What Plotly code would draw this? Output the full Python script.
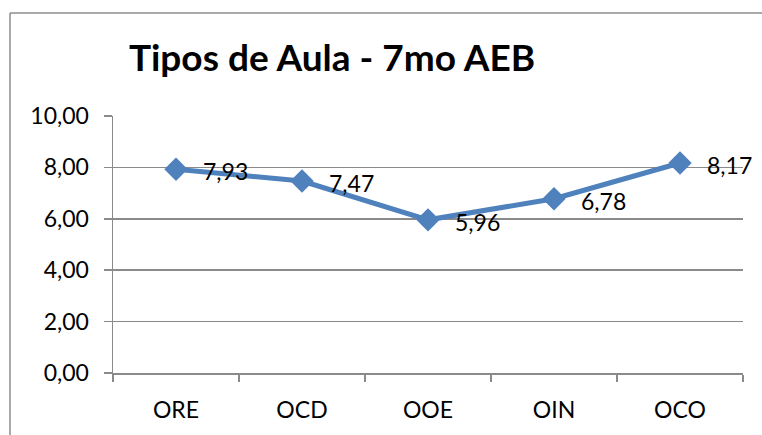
import plotly.graph_objects as go

categories = ["ORE", "OCD", "OOE", "OIN", "OCO"]
values = [7.93, 7.47, 5.96, 6.78, 8.17]
y_ticks = [0, 2, 4, 6, 8, 10]
title_text = "Tipos de Aula - 7mo AEB"

W, H = 762, 435
ml, mt = 113, 116
pw, ph = 630, 257
mr, mb = W - ml - pw, H - mt - ph

FONT = "Lato"
grid_c = "#8a8a8a"
line_c = "#4F81BD"

fig = go.Figure()
fig.add_trace(go.Scatter(
    x=categories, y=values, mode="lines+markers",
    line=dict(color=line_c, width=5),
    marker=dict(symbol="diamond", size=18, color=line_c),
    hoverinfo="skip", showlegend=False,
))

for c, v in zip(categories, values):
    fig.add_annotation(
        x=c, y=v, xref="x", yref="y",
        text=f"{v:.2f}".replace(".", ","),
        showarrow=False, xanchor="left", yanchor="middle",
        xshift=25, yshift=-2,
        font=dict(family=FONT, size=23, color="#000"),
    )

def px_to_paper_x(px):
    return (px - ml) / pw

def px_to_paper_y(py):
    return (H - mb - py) / ph

# chart frame: only left and top edges are visible in the reference
frame = dict(color="#8c8c8c", width=1.5)
fig.add_shape(type="line", xref="paper", yref="paper",
              x0=px_to_paper_x(10), x1=px_to_paper_x(10),
              y0=px_to_paper_y(13), y1=px_to_paper_y(H + 5),
              line=frame, layer="below")
fig.add_shape(type="line", xref="paper", yref="paper",
              x0=px_to_paper_x(10), x1=px_to_paper_x(W + 5),
              y0=px_to_paper_y(13), y1=px_to_paper_y(13),
              line=frame, layer="below")

fig.update_layout(
    width=W, height=H,
    margin=dict(l=ml, r=mr, t=mt, b=mb, autoexpand=False),
    paper_bgcolor="white", plot_bgcolor="white",
    separators=",.",
    title=dict(text=f"<b>{title_text}</b>", x=332 / W, xanchor="center",
               y=1 - 58 / H, yanchor="middle", yref="container",
               font=dict(family=FONT, size=37, color="#000")),
    font=dict(family=FONT, size=23, color="#000"),
)
fig.update_xaxes(
    type="category", range=[-0.5, 4.5], automargin=False,
    showgrid=False, showline=True, linecolor=grid_c, linewidth=1.5,
    ticks="outside", ticklen=7, tickcolor=grid_c, tickwidth=1.5,
    tickson="boundaries", ticklabelstandoff=16,
    tickfont=dict(family=FONT, size=23, color="#000"),
)
fig.update_yaxes(
    range=[0, 10], tickvals=y_ticks, tickformat=".2f", automargin=False,
    showgrid=True, gridcolor=grid_c, gridwidth=1.5,
    showline=True, linecolor=grid_c, linewidth=1.5,
    ticks="outside", ticklen=8, tickcolor=grid_c, tickwidth=1.5,
    ticklabelstandoff=10, zeroline=False,
    tickfont=dict(family=FONT, size=23, color="#000"),
)

fig.write_html(
    "out.html",
    config={"displayModeBar": False, "staticPlot": True},
    post_script=(
        "document.documentElement.style.overflow='hidden';"
        "document.body.style.margin='0';"
        "document.body.style.overflow='hidden';"
    ),
)
